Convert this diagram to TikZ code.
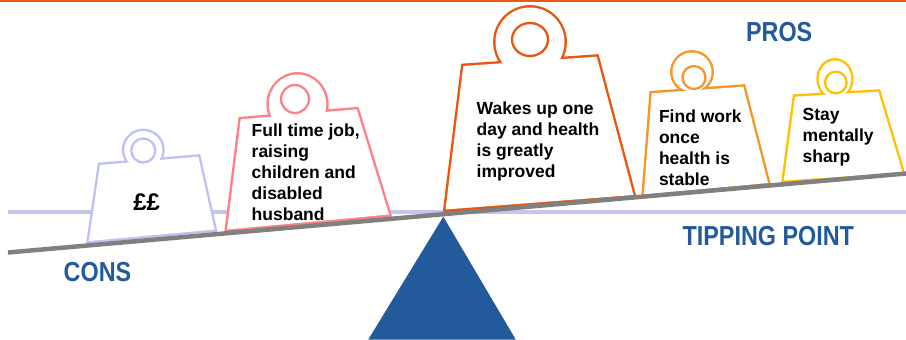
\documentclass[tikz,border=0pt]{standalone}
\usepackage{fontspec}
\setmainfont{Liberation Sans}
\newfontfamily\lblfont{Liberation Sans}[FakeStretch=0.85]
\definecolor{topC}{RGB}{233,90,20}
\definecolor{lavL}{RGB}{196,198,240}
\definecolor{lavC}{RGB}{190,194,242}
\definecolor{pinkC}{RGB}{255,128,133}
\definecolor{redC}{RGB}{232,86,16}
\definecolor{orC}{RGB}{245,150,40}
\definecolor{yelC}{RGB}{255,192,0}
\definecolor{blueC}{RGB}{35,90,155}
\definecolor{beamC}{RGB}{128,128,128}
\newcommand\drawweight[4]{%
  \draw[wline=#1] #2;
  \draw[wline=#1] #3;
  \fill[white] #2;
  \fill[white] #3;
  \draw[innerring=#1] #4;}
\begin{document}
\begin{tikzpicture}[x=1pt,y=-1pt,
  wline/.style={line width=4.8pt, draw=#1},
  innerring/.style={line width=2.3pt, draw=#1, fill=white},
  wtext/.style={anchor=north west, inner sep=0pt, align=left, font=\fontsize{17.5}{21}\selectfont\bfseries},
  lbl/.style={anchor=base, inner sep=0pt, text=blueC, font=\lblfont\fontsize{27.5}{30}\selectfont\bfseries}]
\useasboundingbox (0,0) rectangle (906,340);
% top line
\coordinate (topL) at (0,1);
\coordinate (topR) at (906,1);
\draw[line width=2pt, topC] (topL) -- (topR);
% tipping point line
\coordinate (tipL) at (8,212);
\coordinate (tipR) at (906,212);
\draw[line width=3.5pt, lavL] (tipL) -- (tipR);
% fulcrum
\fill[blueC] (443.3,216.7) -- (515.7,339.5) -- (368.3,339.5) -- cycle;
% weights
\drawweight{lavC}{(143.3,150) circle[radius=19pt]}{(100,165)--(198.3,156.7)--(214.5,229.5)--(88.8,241)--cycle}{(143.3,150.5) circle[radius=12pt]}
\drawweight{pinkC}{(297.5,104) ellipse[x radius=28.7pt, y radius=29.5pt]}{(240.7,119.3)--(356.7,109.3)--(389,214.5)--(227,229.5)--cycle}{(295,99) circle[radius=14pt]}
\drawweight{redC}{(530,42) circle[radius=34.5pt]}{(463.3,66)--(596.7,56.7)--(633.5,195)--(445.5,209.5)--cycle}{(530,39.5) ellipse[x radius=18pt, y radius=16.5pt]}
\drawweight{orC}{(692,72) circle[radius=19.5pt]}{(651.7,93.3)--(743.3,86.7)--(768,183)--(643.8,194.5)--cycle}{(694,77.5) circle[radius=11.5pt]}
\drawweight{yelC}{(835,79) ellipse[x radius=16.2pt, y radius=18.5pt]}{(795,96.7)--(878.3,91.7)--(902.5,172.5)--(783.8,180.5)--cycle}{(835.8,82.5) circle[radius=10.8pt]}
% beam
\coordinate (beamL) at (8,252.5);
\coordinate (beamR) at (906,173.5);
\draw[line width=4.5pt, beamC] (beamL) -- (beamR);
% texts
\node[anchor=base, inner sep=0pt, font=\fontsize{24}{28}\selectfont\bfseries] (money) at (146.7,210.5) {££};
\node[wtext] (full) at (251.5,123.5) {Full time job,\\raising\\children and\\disabled\\husband};
\node[wtext] (wakes) at (476.5,101.5) {Wakes up one\\day and health\\is greatly\\improved};
\node[wtext] (find) at (658.8,109.2) {Find work\\once\\health is\\stable};
\node[wtext] (stay) at (802.5,108.1) {Stay\\mentally\\sharp};
\node[lbl] (pros) at (779.2,41.7) {PROS};
\node[lbl] (tipping) at (768.3,245) {TIPPING POINT};
\node[lbl] (cons) at (97.5,281.5) {CONS};
\end{tikzpicture}
\end{document}
